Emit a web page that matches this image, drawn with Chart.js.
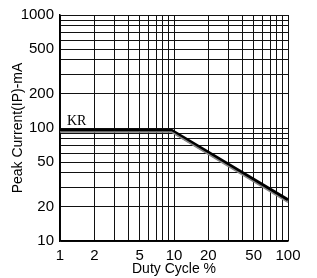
<!DOCTYPE html>
<html>
<head>
<meta charset="utf-8">
<script src="https://cdn.jsdelivr.net/npm/chart.js@4"></script>
<style>
  html, body { margin: 0; padding: 0; background: #fff; }
  #wrap { width: 317px; height: 278px; }
</style>
</head>
<body>
<div id="wrap"><canvas id="diagramm" width="317" height="278"></canvas></div>
<script>
// duty cycle (%) vs peak current (mA)
const dutyCycle = [1, 9.5, 100];
const peakCurrent = [95, 95, 23];
const shadowCurrent = [92, 92, 22];
const xGrid = [1, 2, 3, 4, 5, 6, 7, 8, 9, 10, 20, 30, 40, 50, 60, 70, 80, 90, 100];
const yGrid = [10, 20, 30, 40, 50, 60, 70, 80, 90, 100, 200, 300, 400, 500, 600, 700, 800, 900, 1000];
const xTickLabels = [1, 2, 5, 10, 20, 50, 100];
const yTickLabels = [10, 20, 50, 100, 200, 500, 1000];
const curveLabel = "KR";

const tickFont = { family: "'Liberation Sans', Arial, sans-serif", size: 15 };
const titleFont = { family: "'Liberation Sans', Arial, sans-serif", size: 14 };

const labelPlugin = {
  id: "curveLabel",
  afterDatasetsDraw(chart) {
    const { ctx, scales } = chart;
    ctx.save();
    ctx.font = "14px 'Liberation Serif', serif";
    ctx.fillStyle = "#000";
    ctx.textAlign = "left";
    ctx.textBaseline = "bottom";
    ctx.fillText(curveLabel, scales.x.getPixelForValue(1.15), scales.y.getPixelForValue(peakCurrent[0]) - 2);
    ctx.restore();
  },
};

const ctx = document.getElementById("diagramm").getContext("2d");
new Chart(ctx, {
  type: "line",
  data: {
    datasets: [
      {
        data: dutyCycle.map((x, i) => ({ x: x, y: shadowCurrent[i] })),
        borderColor: "#888",
        borderWidth: 1.5,
        pointRadius: 0,
        tension: 0,
      },
      {
        data: dutyCycle.map((x, i) => ({ x: x, y: peakCurrent[i] })),
        borderColor: "#000",
        borderWidth: 3.5,
        pointRadius: 0,
        tension: 0,
      },
    ],
  },
  options: {
    responsive: false,
    animation: false,
    layout: { padding: { left: 0, right: 29, top: 13, bottom: 0 } },
    plugins: { legend: { display: false }, tooltip: { enabled: false } },
    scales: {
      x: {
        type: "logarithmic",
        min: 1,
        max: 100,
        afterBuildTicks: (scale) => { scale.ticks = xGrid.map((v) => ({ value: v })); },
        afterFit: (scale) => { scale.height = 37; },
        ticks: {
          autoSkip: false,
          maxRotation: 0,
          padding: 6,
          color: "#000",
          font: tickFont,
          callback: (v) => (xTickLabels.includes(v) ? String(v) : ""),
        },
        grid: { color: "#111", lineWidth: 1, drawTicks: false },
        border: { color: "#000", width: 1.5 },
        title: { display: true, text: "Duty Cycle %", color: "#000", font: titleFont, padding: { top: -1, bottom: 0 } },
      },
      y: {
        type: "logarithmic",
        min: 10,
        max: 1000,
        afterBuildTicks: (scale) => { scale.ticks = yGrid.map((v) => ({ value: v })); },
        afterFit: (scale) => { scale.width = 60; },
        ticks: {
          autoSkip: false,
          padding: 6,
          color: "#000",
          font: tickFont,
          callback: (v) => (yTickLabels.includes(v) ? String(v) : ""),
        },
        grid: { color: "#111", lineWidth: 1, drawTicks: false },
        border: { color: "#000", width: 1.5 },
        title: { display: true, text: "Peak Current(IP)-mA", color: "#000", font: titleFont, padding: { top: 10, bottom: 0 } },
      },
    },
  },
  plugins: [labelPlugin],
});
</script>
</body>
</html>
